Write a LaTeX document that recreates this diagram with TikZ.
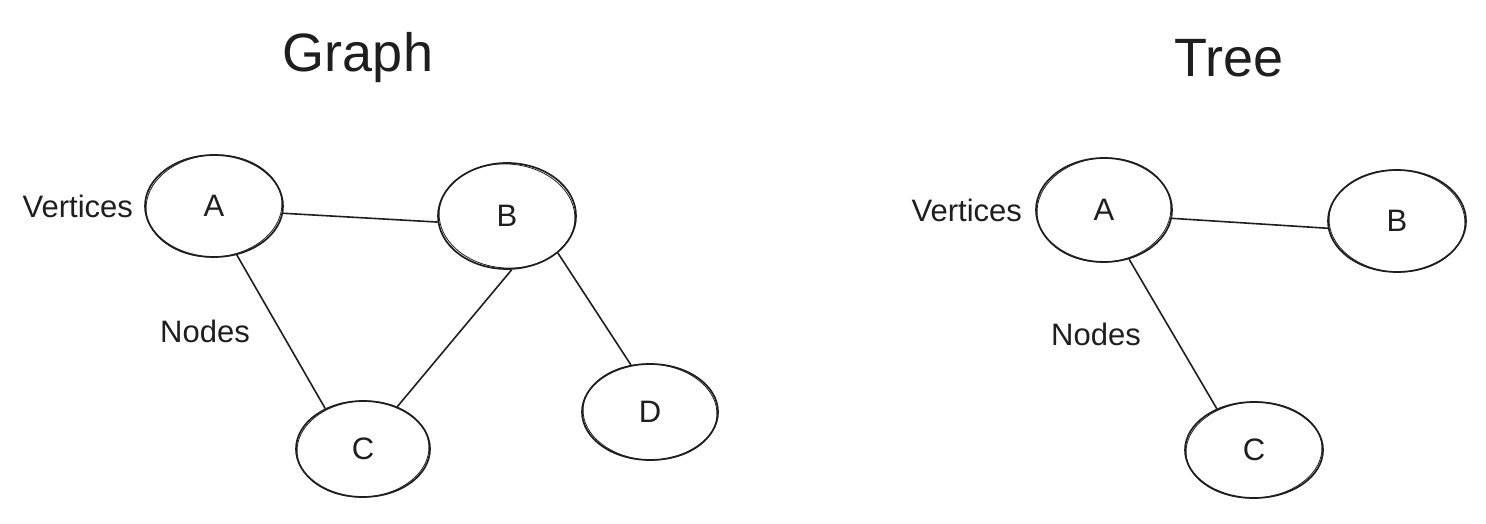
\documentclass[tikz,border=0pt]{standalone}
\usepackage{fontspec}
\setmainfont{Liberation Sans}
\usetikzlibrary{shapes.geometric, positioning}
\definecolor{Ink}{RGB}{30,30,30}

\begin{document}
\begin{tikzpicture}[x=1pt, y=-1pt,
    vertex/.style={ellipse, draw=Ink, line width=1.7pt, minimum width=138pt, minimum height=102pt, inner sep=0pt, text=Ink, font=\fontsize{31}{35}\selectfont},
    sketch/.style={draw=Ink, line width=0.8pt},
    link/.style={draw=Ink, line width=1.6pt},
    heading/.style={anchor=base, text=Ink, font=\fontsize{54}{60}\selectfont},
    note/.style={inner sep=0pt, text=Ink, font=\fontsize{31}{35}\selectfont}
  ]
  \useasboundingbox (0,0) rectangle (1486,524);

  % graph
  \node[heading] (graphtitle) at (358,72) {Graph};
  \node (ga) [vertex] at (214,206) {A};
  \node (gb) [vertex, minimum height=106pt] at (507,216) {B};
  \node (gc) [vertex, minimum width=134pt, minimum height=96pt] at (363,449) {C};
  \node (gd) [vertex, minimum width=136pt, minimum height=96pt] at (650,412) {D};
  \node (gvert) [note, left=11pt of ga] {Vertices};
  \node (gnodes) [note] at (205,331) {Nodes};

  \draw [link] (ga.-6) -- (gb.185);
  \draw [link] (ga.295) -- (gc.133);
  \draw [link] (gb.275) -- (gc.51);
  \draw [link] (gb.324) -- (gd.112);

  % tree
  \node[heading] (treetitle) at (1229,77) {Tree};
  \node (ta) [vertex, minimum width=136pt, minimum height=104pt] at (1104,210) {A};
  \node (tb) [vertex] at (1397,221) {B};
  \node (tc) [vertex, minimum height=96pt] at (1254,450) {C};
  \node (tvert) [note, left=13pt of ta] {Vertices};
  \node (tnodes) [note] at (1096,334) {Nodes};

  \draw [link] (ta.-7) -- (tb.186);
  \draw [link] (ta.297) -- (tc.132);

  % second pencil stroke
  \foreach \n/\a/\rx/\ry in {ga/4/68/51, gb/-4/68/52, gc/3/66/48, gd/-3/67/48, ta/4/67/52, tb/-3/68/51, tc/3/68/48}
    \draw [sketch, rotate around={\a:(\n.center)}] (\n.center) ellipse [x radius=\rx pt, y radius=\ry pt];
\end{tikzpicture}
\end{document}
